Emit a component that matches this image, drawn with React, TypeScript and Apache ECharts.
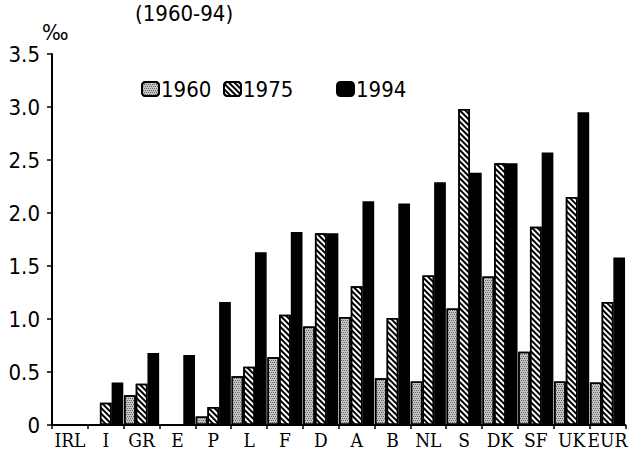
import React, { useEffect, useRef } from "react";
import * as echarts from "echarts";

const categories = ["IRL", "I", "GR", "E", "P", "L", "F", "D", "A", "B", "NL", "S", "DK", "SF", "UK", "EUR"];
const years = ["1960", "1975", "1994"];
const values1960 = [0, 0, 0.28, 0, 0.08, 0.46, 0.64, 0.93, 1.02, 0.44, 0.41, 1.1, 1.4, 0.69, 0.41, 0.4];
const values1975 = [0, 0.21, 0.39, 0, 0.17, 0.55, 1.04, 1.81, 1.31, 1.01, 1.41, 2.98, 2.47, 1.87, 2.15, 1.16];
const values1994 = [0, 0.4, 0.68, 0.66, 1.16, 1.63, 1.82, 1.81, 2.11, 2.09, 2.29, 2.38, 2.47, 2.57, 2.95, 1.58];
const yTicks = ["0", "0.5", "1.0", "1.5", "2.0", "2.5", "3.0", "3.5"];

const sansNarrow = "'Liberation Sans Narrow', 'DejaVu Sans Condensed', 'Liberation Sans', sans-serif";
const serifNarrow = "'DejaVu Serif Condensed', 'Liberation Serif', serif";

export default function App() {
  const ref = useRef<HTMLDivElement>(null);
  useEffect(() => {
    if (!ref.current) return;
    const chart = echarts.init(ref.current, null, { renderer: "svg" });
    const dotDecal = {
      symbol: "rect",
      symbolSize: 0.8,
      dashArrayX: [[1, 1], [0, 1, 1, 0]],
      dashArrayY: [1, 1],
      color: "rgba(0,0,0,0.6)",
    };
    const hatchDecal = {
      symbol: "rect",
      symbolSize: 1,
      dashArrayX: [1, 0],
      dashArrayY: [1.6, 1.6],
      rotation: Math.PI / 4,
      color: "#000",
    };
    const seriesData = [values1960, values1975, values1994];
    const styles = [
      { color: "#c4c4c4", decal: dotDecal },
      { color: "#ffffff", decal: hatchDecal },
      { color: "#000000" },
    ];
    const legendPos = [136, 218, 331];
    chart.setOption({
      animation: false,
      backgroundColor: "#ffffff",
      title: {
        text: "(1960-94)",
        left: 130,
        top: -3,
        textStyle: { fontFamily: sansNarrow, fontSize: 22, fontWeight: "normal", color: "#000" },
      },
      graphic: [
        {
          type: "text",
          left: 42,
          top: 21,
          style: { text: "‰", font: "22px " + sansNarrow, fill: "#000" },
        },
      ],
      legend: years.map((y, i) => ({
        data: [y],
        left: legendPos[i],
        top: 73,
        itemWidth: 17,
        itemHeight: 14,
        itemGap: 2,
        textStyle: { fontFamily: sansNarrow, fontSize: 22, color: "#000", padding: [0, 0, 0, -3] },
      })),
      grid: { left: 52, right: -7, top: 54, bottom: 41, containLabel: false },
      xAxis: {
        type: "category",
        data: categories,
        axisLine: { lineStyle: { color: "#000", width: 2 } },
        axisTick: { show: true, length: 4, lineStyle: { color: "#000", width: 1.5 } },
        axisLabel: { fontFamily: serifNarrow, fontSize: 19, color: "#000", margin: 5, interval: 0 },
      },
      yAxis: {
        type: "value",
        min: 0,
        max: 3.5,
        interval: 0.5,
        splitLine: { show: false },
        axisLine: { show: true, lineStyle: { color: "#000", width: 2 } },
        axisTick: { show: true, length: 5, lineStyle: { color: "#000", width: 1.5 } },
        axisLabel: {
          fontFamily: sansNarrow,
          fontSize: 22,
          color: "#000",
          margin: 12,
          formatter: (v: number) => yTicks[Math.round(v / 0.5)] ?? String(v),
        },
      },
      series: years.map((y, i) => ({
        name: y,
        type: "bar",
        data: seriesData[i],
        barGap: "0%",
        barCategoryGap: "2%",
        itemStyle: { ...styles[i], borderColor: "#000", borderWidth: 1.5 },
      })),
    });
    return () => chart.dispose();
  }, []);
  return (
    <div
      ref={ref}
      style={{ position: "fixed", left: 0, top: 0, width: 630, height: 466, background: "#fff" }}
    />
  );
}
